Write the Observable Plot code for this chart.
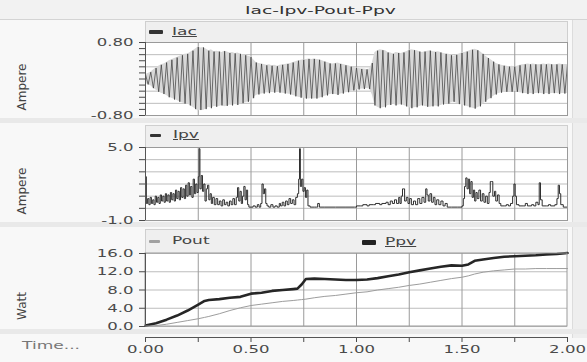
<!DOCTYPE html>
<html><head><meta charset="utf-8">
<script src="https://cdn.jsdelivr.net/npm/d3@7"></script>
<script src="https://cdn.jsdelivr.net/npm/@observablehq/plot@0.6"></script>
<style>
body{margin:0;background:#fff;}
#wrap{position:relative;width:587px;height:362px;background:#f8f8f8;overflow:hidden;font-family:"DejaVu Sans",sans-serif;color:#444;}
.abs{position:absolute;}
.plot{position:absolute;left:0;}
.st{display:inline-block;white-space:nowrap;transform:scaleX(1.55);}
</style></head><body><div id="wrap"></div>
<script>
// ---------- data ----------
const title = "Iac-Ipv-Pout-Ppv";
const timeStep = 0.0125; // Iac sample spacing (s)
const iacPeaks = [
 0.10,-0.12,0.15,-0.20, 0.24,-0.28,0.31,-0.33, 0.36,-0.40,0.42,-0.45, 0.47,-0.50,0.52,-0.54,
 0.55,-0.58,0.62,-0.66, 0.70,-0.68,0.69,-0.66, 0.62,-0.64,0.60,-0.61, 0.60,-0.58,0.61,-0.59,
 0.57,-0.58,0.56,-0.57, 0.55,-0.53,0.52,-0.50, 0.48,-0.42,0.36,-0.34, 0.33,-0.32,0.30,-0.31,
 0.29,-0.30,0.28,-0.30, 0.31,-0.32,0.33,-0.34, 0.36,-0.38,0.40,-0.41, 0.42,-0.43,0.44,-0.43,
 0.44,-0.43,0.42,-0.40, 0.38,-0.36,0.34,-0.33, 0.34,-0.35,0.33,-0.32, 0.30,-0.29,0.27,-0.25,
 0.24,-0.23,0.22,-0.22, 0.21,-0.22,0.35,-0.58, 0.62,-0.64,0.63,-0.62, 0.58,-0.57,0.55,-0.58,
 0.57,-0.56,0.58,-0.60, 0.63,-0.64,0.63,-0.62, 0.60,-0.58,0.60,-0.61, 0.62,-0.60,0.59,-0.60,
 0.58,-0.56,0.55,-0.54, 0.52,-0.50,0.53,-0.55, 0.57,-0.58,0.60,-0.62, 0.64,-0.65,0.63,-0.60,
 0.55,-0.50,0.46,-0.42, 0.38,-0.34,0.32,-0.30, 0.29,-0.28,0.27,-0.28, 0.27,-0.28,0.30,-0.31,
 0.32,-0.33,0.32,-0.33, 0.32,-0.31,0.32,-0.33, 0.32,-0.33,0.32,-0.31, 0.32,-0.33,0.32,-0.32,
 0.32];
const ipvT = [0.000,0.004,0.010,0.016,0.022,0.028,0.034,0.040,0.046,0.052,0.058,0.064,0.070,0.076,0.082,0.088,0.094,0.100,0.106,0.112,0.118,0.124,0.130,0.136,0.142,0.148,0.154,0.160,0.166,0.172,0.178,0.184,0.190,0.196,0.202,0.208,0.214,0.220,0.226,0.232,0.238,0.244,0.250,0.254,0.258,0.264,0.270,0.276,0.282,0.288,0.294,
 0.300,0.306,0.312,0.318,0.326,0.334,0.342,0.350,0.358,0.366,0.374,0.382,0.390,0.398,0.406,0.414,0.422,0.430,0.436,0.442,0.448,0.454,0.460,0.466,0.472,0.478,0.484,0.490,0.500,0.510,0.520,0.530,0.538,0.546,0.552,0.558,0.564,0.570,0.576,0.584,0.594,0.604,0.614,0.624,0.634,0.640,0.648,0.656,0.664,0.672,0.680,0.688,0.696,0.704,0.712,0.720,0.726,0.730,0.734,0.740,0.746,0.752,0.758,0.764,0.770,0.780,0.800,0.810,0.816,0.824,0.850,0.900,0.950,0.990,
 1.000,1.020,1.030,1.050,1.060,1.080,1.090,1.110,1.120,1.140,1.150,1.160,1.170,1.180,1.190,1.200,1.206,1.212,1.218,1.224,1.228,1.236,1.244,1.252,1.260,1.270,1.280,1.290,1.300,1.310,1.320,1.328,1.334,1.340,1.348,1.356,1.364,1.372,1.380,1.390,1.400,1.410,1.420,1.430,1.450,1.480,
 1.500,1.506,1.512,1.518,1.524,1.530,1.536,1.542,1.548,1.554,1.560,1.566,1.572,1.580,1.588,1.596,1.604,1.612,1.620,1.628,1.634,1.640,1.646,1.654,1.660,1.668,1.676,1.684,1.700,1.710,1.720,1.730,1.740,1.746,1.752,1.758,1.770,1.790,1.800,1.810,1.830,1.840,1.850,1.860,1.866,1.872,1.880,1.900,1.910,1.920,1.940,1.950,1.956,1.962,1.968,1.980,2.000];
const ipvV = [2.6,0.4,0.8,0.3,0.9,0.4,0.7,0.3,1.0,0.5,0.9,0.4,1.1,0.6,1.0,0.5,1.2,0.6,1.1,0.5,1.3,0.7,1.2,0.6,1.5,0.8,1.4,0.7,1.7,0.9,1.6,0.8,1.9,1.0,2.1,1.1,1.8,0.9,2.4,1.2,2.0,1.3,2.6,4.9,1.6,2.7,1.4,2.0,0.6,1.6,1.9,
 0.7,1.2,0.4,0.9,0.3,0.8,0.3,0.6,0.2,0.7,0.3,0.5,0.2,0.6,0.3,0.8,0.3,0.9,1.7,0.6,1.4,0.4,1.0,1.8,0.7,1.5,0.3,0.1,0.1,0.2,0.1,0.3,0.1,0.4,2.0,1.2,1.6,0.4,0.2,0.1,0.3,0.1,0.2,0.1,0.4,0.2,0.5,0.2,0.6,0.3,0.8,0.4,0.7,0.3,0.9,1.2,2.4,4.9,1.8,2.4,1.4,1.7,0.9,1.5,0.2,0.1,0.1,0.1,0.4,0.1,0.1,0.1,0.1,0.1,
 0.2,0.2,0.3,0.2,0.3,0.3,0.4,0.3,0.4,0.5,0.3,0.6,0.4,0.7,0.4,0.9,0.4,1.0,1.6,1.6,0.6,0.9,0.4,0.8,0.3,0.6,0.3,0.8,0.4,0.9,0.5,1.6,1.1,0.6,1.2,0.5,0.9,0.3,0.7,0.3,0.6,0.2,0.4,0.1,0.1,0.1,
 0.2,0.8,1.8,2.5,1.6,2.4,1.2,2.2,0.9,1.5,0.6,1.3,0.8,1.5,0.6,1.2,0.5,1.0,0.4,1.3,2.2,2.2,1.0,1.4,0.6,1.1,0.4,0.2,0.2,0.3,0.2,0.4,1.0,2.0,1.0,0.3,0.2,0.2,0.4,0.2,0.3,0.2,0.5,0.3,2.1,0.7,0.2,0.2,0.3,0.2,0.3,0.8,1.9,1.2,0.3,0.1,0.1];
const powT  = [0,0.05,0.10,0.15,0.20,0.25,0.28,0.30,0.35,0.40,0.45,0.50,0.55,0.60,0.65,0.70,0.72,0.74,0.76,0.80,0.85,0.90,0.95,1.00,1.05,1.10,1.15,1.20,1.25,1.30,1.35,1.40,1.45,1.50,1.53,1.56,1.60,1.65,1.70,1.75,1.80,1.85,1.90,1.95,2.00];
const ppv   = [0.2,0.7,1.5,2.4,3.5,4.8,5.6,5.8,6.0,6.3,6.5,7.2,7.4,7.8,8.0,8.2,8.3,9.2,10.4,10.5,10.4,10.3,10.2,10.2,10.3,10.6,11.0,11.4,11.9,12.3,12.7,13.1,13.4,13.3,13.6,14.4,14.7,15.0,15.3,15.4,15.5,15.6,15.8,15.9,16.1];
const pout  = [0,0.2,0.5,0.9,1.3,1.7,2.0,2.2,2.8,3.5,4.1,4.6,4.9,5.2,5.5,5.7,5.8,5.9,6.0,6.3,6.6,6.8,7.1,7.4,7.6,8.0,8.3,8.6,9.0,9.3,9.7,10.1,10.5,10.8,11.1,11.5,11.9,12.2,12.4,12.6,12.6,12.7,12.7,12.7,12.7];
// axis / grid values
const xGrid = [0.25,0.5,0.75,1,1.25,1.5,1.75];
const xTickLabels = [0,0.5,1,1.5,2];
const xMinorTicks = [0.25,0.75,1.25,1.75];
const iacGrid = [-0.8,-0.5333,-0.2667,0,0.2667,0.5333,0.8];
const iacMinor = [-0.8,-0.6667,-0.5333,-0.4,-0.2667,-0.1333,0,0.1333,0.2667,0.4,0.5333,0.6667,0.8];
const iacTickLabels = [-0.8,0.8];
const ipvGrid = [-1,0,1,2,3,4,5];
const ipvTickLabels = [-1,5];
const powTicks = [0,4,8,12,16];

// ---------- build ----------
const iac = iacPeaks.map((v,i)=>({t:i*timeStep, v, a:Math.abs(v)}));
const ipv = ipvT.map((t,i)=>({t, v:ipvV[i]}));
const pw = powT.map((t,i)=>({t, ppv:ppv[i], pout:pout[i]}));

const wrap = document.getElementById("wrap");
function div(css, html){const d=document.createElement("div");d.className="abs";d.style.cssText=css;if(html!=null)d.innerHTML=html;wrap.appendChild(d);return d;}

// background decorations
div("left:0;top:0;width:587px;height:19px;background:#f2f2f2;border-bottom:1px solid #d4d4d4;");
div("left:572px;top:20px;width:15px;height:318px;background:#eeeeee;border-left:1px solid #dcdcdc;");
div("left:0;top:118px;width:587px;height:5px;background:#e9e9e9;");
div("left:0;top:222px;width:587px;height:5px;background:#e9e9e9;");
div("left:0;top:329px;width:587px;height:5px;background:#e9e9e9;");
div("left:145px;top:21px;width:421px;height:20px;background:#efefef;border:1px solid #cfcfcf;");
div("left:145px;top:125px;width:421px;height:21px;background:#efefef;border:1px solid #cfcfcf;");
div("left:145px;top:229px;width:421px;height:23px;background:#efefef;border:1px solid #cfcfcf;");

const style = {background:"transparent", fontFamily:"DejaVu Sans", fontSize:"11px", color:"#4a4a4a", overflow:"visible"};
const sx = 1.5;
function place(svg, top){
  svg.classList.add("plot"); svg.style.top = top + "px";
  wrap.appendChild(svg);
  svg.querySelectorAll("text").forEach(t=>{
    const L = t.getComputedTextLength();
    if (L > 0) { t.setAttribute("textLength", (L*sx).toFixed(1)); t.setAttribute("lengthAdjust","spacingAndGlyphs"); }
  });
}

// Panel 1: Iac
const p1 = Plot.plot({
  width:587, height:100, marginLeft:145, marginRight:20, marginTop:20, marginBottom:7,
  x:{domain:[0,2], axis:null}, y:{domain:[-0.8,0.8]}, style,
  marks:[
    Plot.frame({fill:"white"}),
    Plot.ruleY(iacGrid,{stroke:"#bdbdbd"}),
    Plot.ruleX(xGrid,{stroke:"#9a9a9a"}),
    Plot.areaY(iac,{x:"t",y1:d=>-d.a,y2:"a",fill:"#d8d8d8",curve:"linear"}),
    Plot.line(iac,{x:"t",y:"v",stroke:"#383838",strokeWidth:0.7}),
    Plot.frame({stroke:"#9a9a9a"}),
    Plot.ruleX([0],{stroke:"#555"}),
    Plot.axisY(iacMinor,{tickSize:6,tickFormat:()=>"",label:null}),
    Plot.axisY(iacTickLabels,{tickSize:6,tickPadding:6,tickFormat:d=>d.toFixed(2),label:null})
  ]
});
place(p1, 22);

// Panel 2: Ipv
const p2 = Plot.plot({
  width:587, height:100, marginLeft:145, marginRight:20, marginTop:22, marginBottom:5,
  x:{domain:[0,2], axis:null}, y:{domain:[-1,5]}, style,
  marks:[
    Plot.frame({fill:"white"}),
    Plot.ruleY(ipvGrid,{stroke:"#bdbdbd"}),
    Plot.ruleX(xGrid,{stroke:"#9a9a9a"}),
    Plot.line(ipv,{x:"t",y:"v",stroke:"#2e2e2e",strokeWidth:1,curve:"step-after"}),
    Plot.frame({stroke:"#9a9a9a"}),
    Plot.ruleX([0],{stroke:"#555"}),
    Plot.axisY(ipvGrid,{tickSize:6,tickFormat:()=>"",label:null}),
    Plot.axisY(ipvTickLabels,{tickSize:6,tickPadding:6,tickFormat:d=>d.toFixed(1),label:null})
  ]
});
place(p2, 125);

// Panel 3: Pout / Ppv
const p3 = Plot.plot({
  width:587, height:134, marginLeft:145, marginRight:20, marginTop:25, marginBottom:25,
  x:{domain:[0,2]}, y:{domain:[0,16], range:[98,25]}, style,
  marks:[
    Plot.rect({length:1},{x1:0,x2:2,y1:0,y2:16,fill:"white"}),
    Plot.ruleY(powTicks,{stroke:"#bdbdbd"}),
    Plot.ruleX(xGrid,{y1:0,y2:16,stroke:"#9a9a9a"}),
    Plot.line(pw,{x:"t",y:"pout",stroke:"#9d9d9d",strokeWidth:1}),
    Plot.line(pw,{x:"t",y:"ppv",stroke:"#262626",strokeWidth:2.6}),
    Plot.rect({length:1},{x1:0,x2:2,y1:0,y2:16,fill:"none",stroke:"#9a9a9a"}),
    Plot.ruleX([0],{y1:0,y2:16,stroke:"#555"}),
    Plot.axisY(powTicks,{tickSize:6,tickPadding:6,tickFormat:d=>d.toFixed(1),label:null}),
    Plot.axisX(xMinorTicks,{tickSize:5,tickFormat:()=>"",label:null}),
    Plot.axisX(xTickLabels,{tickSize:5,tickPadding:3,tickFormat:d=>d.toFixed(2),label:null})
  ]
});
place(p3, 228);
div("left:145px;top:337px;width:422px;height:1px;background:#555;");

// texts
div("left:170px;top:4px;width:300px;text-align:center;font-size:11px;color:#333;",
    `<span class="st" style="transform:scaleX(1.7);transform-origin:center;">${title}</span>`);
function ylab(txt, cy){
  div(`left:${22-40}px;top:${cy-8}px;width:80px;height:16px;text-align:center;font-size:12px;line-height:16px;color:#444;transform:rotate(-90deg);transform-origin:center;`, txt);
}
ylab("Ampere",87); ylab("Ampere",191); ylab("Watt",306);
div("left:22px;top:339px;font-size:11px;color:#777;", `<span class="st" style="transform-origin:left;">Time...</span>`);

function legend(x, y, name, color, thick, underline){
  div(`left:${x}px;top:${y-thick/2}px;width:${thick>3?14:11}px;height:${thick}px;background:${color};border-radius:1px;`);
  div(`left:${x+23}px;top:${y-8}px;font-size:11px;line-height:15px;color:#444;`,
      `<span class="st" style="transform-origin:left;${underline?'text-decoration:underline;':''}">${name}</span>`);
}
legend(149,32,"Iac","#333",4,true);
legend(150,135,"Ipv","#333",3,true);
legend(149,241,"Pout","#a0a0a0",3,false);
legend(362,242,"Ppv","#222",5,true);
</script></body></html>
